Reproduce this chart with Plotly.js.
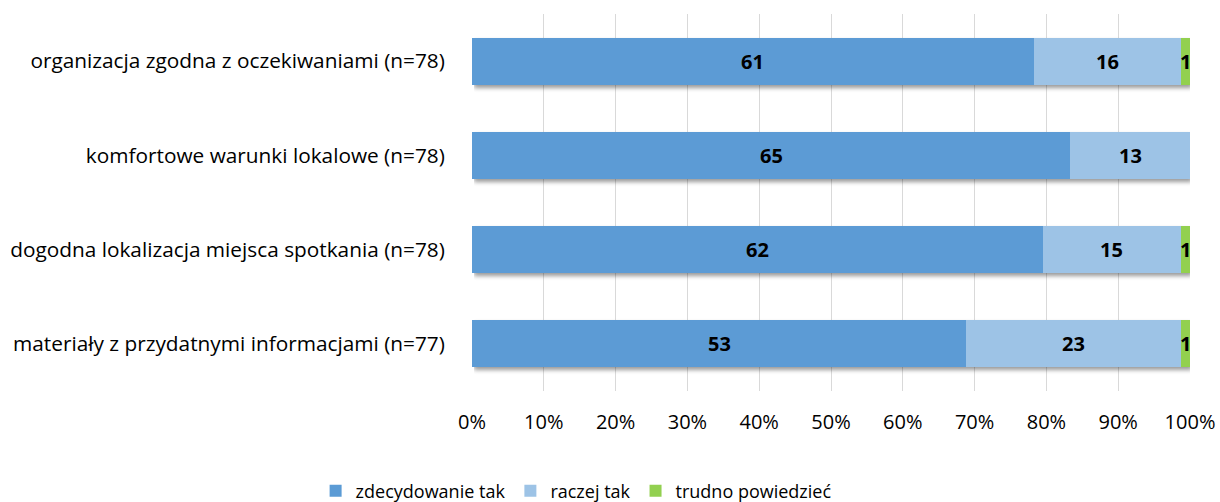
<!DOCTYPE html>
<html>
<head>
<meta charset="utf-8">
<script src="https://cdn.plot.ly/plotly-3.0.1.min.js"></script>
<style>
html,body{margin:0;padding:0;background:#fff;}
#chart{width:1220px;height:502px;}
</style>
</head>
<body>
<div id="chart"></div>
<script>
const categories = [
  "materiały z przydatnymi informacjami (n=77)",
  "dogodna lokalizacja miejsca spotkania (n=78)",
  "komfortowe warunki lokalowe (n=78)",
  "organizacja zgodna z oczekiwaniami (n=78)"
];
const seriesNames = ["zdecydowanie tak", "raczej tak", "trudno powiedzieć"];
const zdecydowanieTak = [53, 62, 65, 61];
const raczejTak = [23, 15, 13, 16];
const trudnoPowiedziec = [1, 1, 0, 1];
const colors = ["#5B9BD5", "#9DC3E6", "#92D050"];
const tickVals = [0, 10, 20, 30, 40, 50, 60, 70, 80, 90, 100];
const tickText = tickVals.map(v => v + "%");

const FONT = "'Open Sans', sans-serif";
const FS = 20;
const allSeries = [zdecydowanieTak, raczejTak, trudnoPowiedziec];

const traces = allSeries.map((vals, i) => ({
  type: "bar",
  orientation: "h",
  name: seriesNames[i],
  y: categories,
  x: vals,
  marker: {color: colors[i], line: {width: 0}},
  hoverinfo: "x+y+name"
}));

// data labels placed at segment centres (percent of row total)
const annotations = [];
categories.forEach((cat, r) => {
  const total = allSeries.reduce((s, ser) => s + ser[r], 0);
  let cum = 0;
  allSeries.forEach((ser, i) => {
    const v = ser[r];
    if (v > 0) {
      const mid = (cum + v / 2) / total * 100;
      annotations.push({
        x: mid, y: cat, xref: "x", yref: "y",
        text: "<b>" + v + "</b>", showarrow: false,
        font: {family: FONT, size: FS, color: "#000"},
        xanchor: "center", yanchor: "middle"
      });
    }
    cum += v;
  });
});

const layout = {
  width: 1220,
  height: 502,
  barmode: "stack",
  barnorm: "percent",
  bargap: 0.5,
  paper_bgcolor: "#fff",
  plot_bgcolor: "#fff",
  margin: {l: 472, r: 30, t: 14, b: 111},
  font: {family: FONT, size: FS, color: "#000"},
  annotations: annotations,
  xaxis: {
    range: [0, 100],
    tickvals: tickVals,
    ticktext: tickText,
    showgrid: true,
    gridcolor: "#D9D9D9",
    gridwidth: 1,
    zeroline: false,
    showline: false,
    ticks: "outside",
    ticklen: 13,
    tickcolor: "rgba(0,0,0,0)",
    tickfont: {family: FONT, size: FS, color: "#000"},
    fixedrange: true
  },
  yaxis: {
    categoryorder: "array",
    categoryarray: categories,
    showgrid: false,
    zeroline: false,
    showline: false,
    ticks: "outside",
    ticklen: 22,
    tickcolor: "rgba(0,0,0,0)",
    tickfont: {family: FONT, size: 20.8, color: "#000"},
    fixedrange: true
  },
  showlegend: true,
  legend: {
    orientation: "h",
    xref: "paper",
    yref: "container",
    x: 0.145,
    xanchor: "center",
    y: 0.022,
    yanchor: "middle",
    font: {family: FONT, size: 18, color: "#000"},
    traceorder: "normal",
    itemwidth: 30,
    tracegroupgap: 0
  }
};

function addShadow(gd) {
  const ns = "http://www.w3.org/2000/svg";
  const svg = gd.querySelector("svg.main-svg");
  let defs = svg.querySelector("defs");
  if (!defs) { defs = document.createElementNS(ns, "defs"); svg.insertBefore(defs, svg.firstChild); }
  const f = document.createElementNS(ns, "filter");
  f.setAttribute("id", "barshadow");
  f.setAttribute("filterUnits", "userSpaceOnUse");
  f.setAttribute("x", "0"); f.setAttribute("y", "0");
  f.setAttribute("width", "1220"); f.setAttribute("height", "502");
  const blur = document.createElementNS(ns, "feGaussianBlur");
  blur.setAttribute("in", "SourceAlpha"); blur.setAttribute("stdDeviation", "2.2");
  const off = document.createElementNS(ns, "feOffset");
  off.setAttribute("dx", "2"); off.setAttribute("dy", "3"); off.setAttribute("result", "ob");
  const ct = document.createElementNS(ns, "feComponentTransfer");
  ct.setAttribute("in", "ob"); ct.setAttribute("result", "sh");
  const fa = document.createElementNS(ns, "feFuncA");
  fa.setAttribute("type", "linear"); fa.setAttribute("slope", "0.4");
  ct.appendChild(fa);
  const merge = document.createElementNS(ns, "feMerge");
  const m1 = document.createElementNS(ns, "feMergeNode"); m1.setAttribute("in", "sh");
  const m2 = document.createElementNS(ns, "feMergeNode"); m2.setAttribute("in", "SourceGraphic");
  merge.appendChild(m1); merge.appendChild(m2);
  f.appendChild(blur); f.appendChild(off); f.appendChild(ct); f.appendChild(merge);
  defs.appendChild(f);
  const layer = gd.querySelector(".barlayer");
  if (layer) layer.setAttribute("filter", "url(#barshadow)");
}

Plotly.newPlot("chart", traces, layout, {displayModeBar: false, staticPlot: true}).then(addShadow);
</script>
</body>
</html>
